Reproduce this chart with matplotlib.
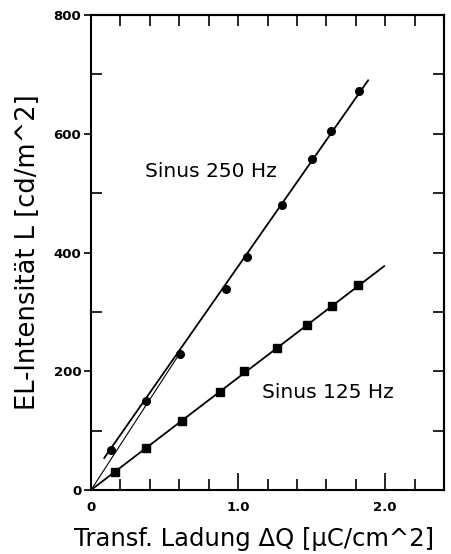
import matplotlib
matplotlib.use("Agg")
import matplotlib.pyplot as plt
from matplotlib.ticker import MultipleLocator, FixedLocator

# Sinus 250 Hz (circles)
q_250 = [0.136, 0.374, 0.605, 0.918, 1.061, 1.299, 1.505, 1.633, 1.823]
l_250 = [67, 150, 229, 338, 393, 480, 557, 605, 672]
fit_250_x = [0.09, 1.884]
fit_250_y = [54, 690]
fit_250_origin_x = [0.0, 0.60]
fit_250_origin_y = [0, 229]

# Sinus 125 Hz (squares)
q_125 = [0.163, 0.374, 0.619, 0.878, 1.041, 1.265, 1.469, 1.639, 1.816]
l_125 = [30, 71, 116, 165, 200, 239, 278, 310, 345]
fit_125_x = [0.0, 1.993]
fit_125_y = [0, 377]

fig = plt.figure(figsize=(4.51, 5.54), dpi=100)
ax = fig.add_axes([0.2018, 0.1155, 0.7827, 0.8574])

ax.plot(fit_250_x, fit_250_y, color="black", lw=1.3)
ax.plot(fit_250_origin_x, fit_250_origin_y, color="black", lw=0.8)
ax.plot(fit_125_x, fit_125_y, color="black", lw=1.3)
ax.plot(q_250, l_250, "o", color="black", ms=5.5)
ax.plot(q_125, l_125, "s", color="black", ms=5.5)

ax.text(0.37, 536, "Sinus 250 Hz", fontsize=14.5, va="center")
ax.text(1.16, 165, "Sinus 125 Hz", fontsize=14.5, va="center")

ax.set_xlim(0, 2.4)
ax.set_ylim(0, 800)

for s in ax.spines.values():
    s.set_linewidth(1.5)

# Bottom / left ticks
ax.xaxis.set_major_locator(FixedLocator([0, 1.0, 2.0]))
ax.xaxis.set_minor_locator(MultipleLocator(0.2))
ax.set_xticklabels(["0", "1.0", "2.0"])
ax.yaxis.set_major_locator(MultipleLocator(200))
ax.yaxis.set_minor_locator(MultipleLocator(100))
ax.tick_params(axis="x", which="major", direction="in", length=12, width=1.2,
               labelsize=9.5, pad=8)
ax.tick_params(axis="x", which="minor", direction="in", length=8, width=1.2)
ax.tick_params(axis="y", which="major", direction="out", length=5, width=1.2,
               labelsize=9.5, pad=2)
ax.tick_params(axis="y", which="minor", direction="in", length=8, width=1.2)
for lab in ax.get_xticklabels() + ax.get_yticklabels():
    lab.set_fontweight("bold")

# Top / right ticks
top = ax.secondary_xaxis("top")
top.xaxis.set_major_locator(MultipleLocator(0.2))
top.tick_params(direction="in", length=8, width=1.2, labeltop=False)
top.spines["top"].set_linewidth(1.5)
right = ax.secondary_yaxis("right")
right.yaxis.set_major_locator(MultipleLocator(100))
right.tick_params(direction="in", length=8, width=1.2, labelright=False)
right.spines["right"].set_linewidth(1.5)

ax.set_xlabel("Transf. Ladung \u0394Q [\u03bcC/cm^2]", fontsize=17.5, labelpad=9)
ax.xaxis.label.set_x(0.462)
ax.set_ylabel("EL-Intensit\u00e4t L [cd/m^2]", fontsize=18.5, labelpad=9)

fig.savefig("out.png", dpi=100)
